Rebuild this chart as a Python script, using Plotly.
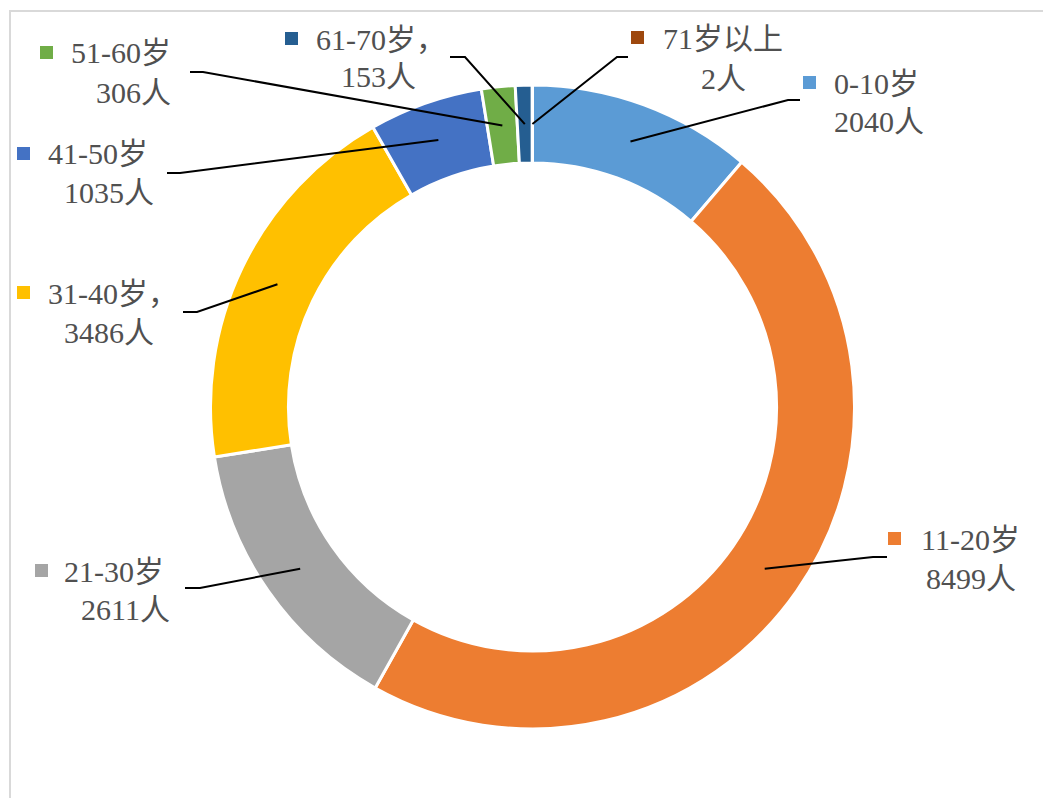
import math
import plotly.graph_objects as go

# ---- data ----
categories = ["0-10岁", "11-20岁", "21-30岁", "31-40岁", "41-50岁", "51-60岁", "61-70岁", "71岁以上"]
label_line1 = ["0-10岁", "11-20岁", "21-30岁", "31-40岁，", "41-50岁", "51-60岁", "61-70岁，", "71岁以上"]
values = [2040, 8499, 2611, 3486, 1035, 306, 153, 2]
colors = ["#5B9BD5", "#ED7D31", "#A5A5A5", "#FFC000", "#4472C4", "#70AD47", "#255E91", "#9E480E"]

# ---- layout (pixels) ----
W, H = 1043, 798
CX, CY, R_OUT, HOLE = 532.5, 407.0, 322.0, 0.758
R_MID = R_OUT * (1 + HOLE) / 2

# per label: square-left x, line1-left x, line2-left x, y1, y2, elbow point, elbow end
label_pos = [
    (803, 833, 833, 83, 122, (788, 100), (800, 100)),
    (888, 920, 925, 539, 578, (873, 557), (887, 557)),
    (35, 63, 80, 571, 609, (200, 588), (185, 588)),
    (17, 47, 63, 293, 332, (197, 312), (183, 312)),
    (17, 47, 63, 154, 193, (180, 173), (167, 173)),
    (40, 70, 95, 53, 92, (203, 72), (190, 72)),
    (285, 315, 340, 39, 77, (465, 57), (450, 57)),
    (631, 662, 700, 38, 78, (617, 57), (628, 57)),
]

def px(x):
    return x / W

def py(y):
    return 1 - y / H

fig = go.Figure()
fig.add_trace(go.Pie(
    labels=categories, values=values, hole=HOLE, sort=False, direction="clockwise",
    rotation=0, marker=dict(colors=colors, line=dict(color="white", width=3)),
    textinfo="none", hoverinfo="label+value", showlegend=False,
    domain=dict(x=[px(CX - R_OUT), px(CX + R_OUT)], y=[py(CY + R_OUT), py(CY - R_OUT)]),
))

FONT = dict(family="Liberation Serif, Noto Sans CJK SC, serif", size=30, color="#505050")
total = sum(values)
cum = 0
shapes = []
annotations = []
for i, v in enumerate(values):
    mid = (cum + v / 2) / total * 2 * math.pi
    cum += v
    sx = CX + R_MID * math.sin(mid)
    sy = CY - R_MID * math.cos(mid)
    sqx, t1x, t2x, y1, y2, (ex, ey), (hx, hy) = label_pos[i]
    shapes.append(dict(
        type="path", xref="paper", yref="paper",
        path=f"M {px(sx)} {py(sy)} L {px(ex)} {py(ey)} L {px(hx)} {py(hy)}",
        line=dict(color="#000000", width=2),
    ))
    shapes.append(dict(
        type="rect", xref="paper", yref="paper",
        x0=px(sqx), x1=px(sqx + 13), y0=py(y1 - 7), y1=py(y1 + 6),
        fillcolor=colors[i], line=dict(width=0),
    ))
    annotations.append(dict(
        x=px(t1x), y=py(y1), xref="paper", yref="paper", xanchor="left", yanchor="middle",
        text=label_line1[i], showarrow=False, font=FONT, borderpad=0,
    ))
    annotations.append(dict(
        x=px(t2x), y=py(y2), xref="paper", yref="paper", xanchor="left", yanchor="middle",
        text=f"{v}人", showarrow=False, font=FONT, borderpad=0,
    ))

# chart-area border
shapes.append(dict(
    type="path", xref="paper", yref="paper",
    path=f"M {px(10)} {py(H + 5)} L {px(10)} {py(11)} L {px(W + 5)} {py(11)}",
    line=dict(color="#D9D9D9", width=2),
))

fig.update_layout(
    width=W, height=H, margin=dict(l=0, r=0, t=0, b=0),
    paper_bgcolor="white", plot_bgcolor="white",
    shapes=shapes, annotations=annotations,
)
fig.write_html(
    "out.html",
    config={"displayModeBar": False},
    post_script="document.body.style.margin='0';document.body.style.overflow='hidden';",
)
